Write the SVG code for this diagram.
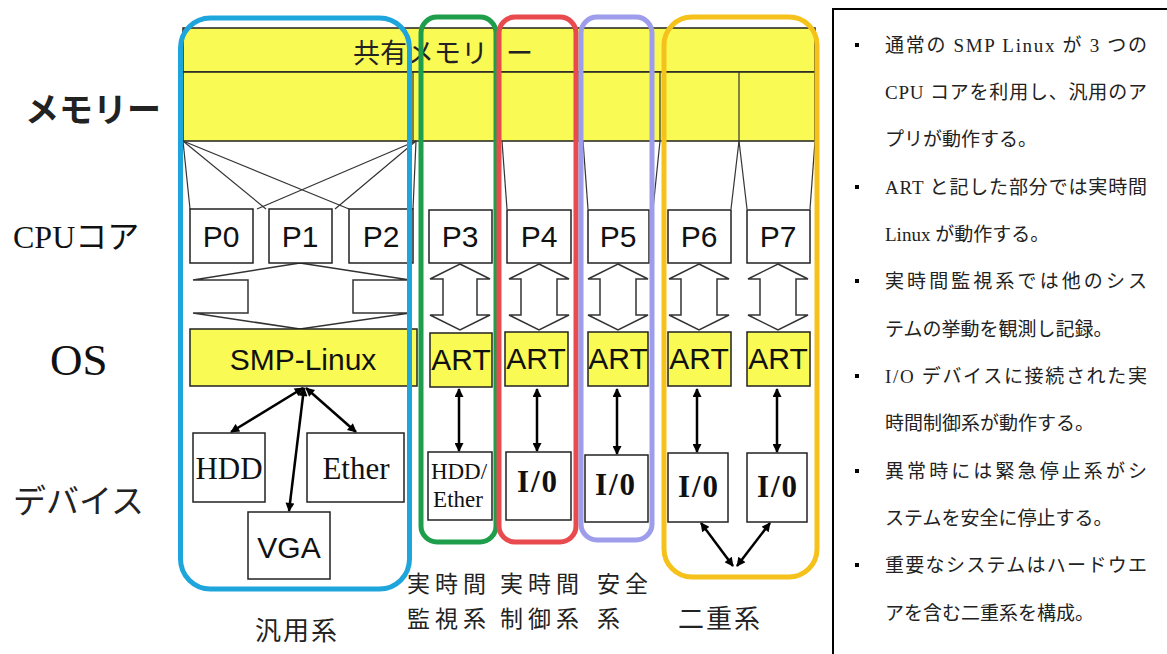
<svg xmlns="http://www.w3.org/2000/svg" width="1167" height="654" viewBox="0 0 1167 654">
<style>
.band{fill:#fafa55;stroke:#222;stroke-width:1.5}
.box{fill:#fff;stroke:#222;stroke-width:1.5}
.ybox{fill:#fafa55;stroke:#222;stroke-width:1.5}
.ln{stroke:#333;stroke-width:1.2;fill:none}
.blk{fill:#fff;stroke:#333;stroke-width:1.5}
.arr{stroke:#000;stroke-width:2.5;fill:none;marker-start:url(#ah);marker-end:url(#ah)}
.sans{font-family:"Liberation Sans",Arial,sans-serif;fill:#111}
.serif{font-family:"Liberation Serif","Noto Sans CJK JP",serif;fill:#111}
.jp{font-family:"Noto Sans CJK JP",sans-serif;fill:#222}
.grp{fill:none;stroke-width:5}
.note{font-family:"Liberation Serif","Noto Sans CJK JP",serif;font-size:19px;fill:#222}
</style>
<defs>
<marker id="ah" viewBox="0 0 10 10" refX="9" refY="5" markerWidth="11" markerHeight="9" markerUnits="userSpaceOnUse" orient="auto-start-reverse"><path d="M0,0 L10,5 L0,10 z" fill="#000"/></marker>
</defs>
<rect width="1167" height="654" fill="#fff"/>

<g id="labels-left">
<text x="25" y="122" class="jp" font-size="34" font-weight="bold">メモリー</text>
<text x="13" y="248" class="serif" font-size="32">CPUコア</text>
<text x="50" y="375" class="serif" font-size="45">OS</text>
<text x="13" y="513" class="jp" font-size="33">デバイス</text>
</g>

<g id="memory">
<rect class="band" x="183" y="28" width="632" height="44"/>
<rect class="band" x="183" y="72" width="632" height="69"/>
<line class="ln" x1="413" y1="72" x2="413" y2="141"/>
<line class="ln" x1="500" y1="72" x2="500" y2="141"/>
<line class="ln" x1="579" y1="72" x2="579" y2="141"/>
<line class="ln" x1="660" y1="72" x2="660" y2="141"/>
<line class="ln" x1="739" y1="72" x2="739" y2="141"/>
<text class="jp" font-size="27" y="63"><tspan x="353">共有メモリ</tspan><tspan x="506">ー</tspan></text>
</g>

<g id="connectors">
<line class="ln" x1="183" y1="141" x2="190" y2="209"/>
<line class="ln" x1="183" y1="141" x2="266" y2="209"/>
<line class="ln" x1="183" y1="141" x2="349" y2="209"/>
<line class="ln" x1="416" y1="141" x2="257" y2="209"/>
<line class="ln" x1="416" y1="141" x2="335" y2="209"/>
<line class="ln" x1="416" y1="141" x2="413" y2="209"/>
<line class="ln" x1="502" y1="141" x2="507" y2="209"/>
<line class="ln" x1="583" y1="141" x2="588" y2="209"/>
<line class="ln" x1="660" y1="141" x2="653" y2="209"/>
<line class="ln" x1="739" y1="141" x2="731" y2="209"/>
<line class="ln" x1="739" y1="141" x2="747" y2="209"/>
<line class="ln" x1="815" y1="141" x2="810" y2="209"/>
<polygon class="blk" points="300,263 410,280 353,280 353,313 410,313 300,329 193,313 248,313 248,280 193,280"/>
<polygon class="blk" points="460,264 490,279 477,279 477,315 490,315 460,330 430,315 443,315 443,279 430,279"/>
<polygon class="blk" points="539,264 569,279 557,279 557,315 569,315 539,330 509,315 521,315 521,279 509,279"/>
<polygon class="blk" points="618,264 648,279 636,279 636,315 648,315 618,330 588,315 600,315 600,279 588,279"/>
<polygon class="blk" points="699,264 729,279 717,279 717,315 729,315 699,330 669,315 681,315 681,279 669,279"/>
<polygon class="blk" points="778,264 808,279 796,279 796,315 808,315 778,330 748,315 760,315 760,279 748,279"/>
<line class="arr" x1="303" y1="388" x2="231" y2="432"/>
<line class="arr" x1="304" y1="388" x2="289" y2="511"/>
<line class="arr" x1="306" y1="388" x2="356" y2="432"/>
<line class="arr" x1="459" y1="389" x2="459" y2="451"/>
<line class="arr" x1="537" y1="389" x2="537" y2="451"/>
<line class="arr" x1="617" y1="389" x2="617" y2="454"/>
<line class="arr" x1="697" y1="389" x2="697" y2="452"/>
<line class="arr" x1="777" y1="389" x2="777" y2="452"/>
<line class="arr" x1="701" y1="523" x2="733" y2="566"/>
<line class="arr" x1="770" y1="523" x2="737" y2="566"/>
</g>

<g id="cpu">
<rect class="box" x="190" y="209" width="63" height="54"/>
<rect class="box" x="269" y="209" width="63" height="54"/>
<rect class="box" x="349" y="209" width="64" height="54"/>
<rect class="box" x="429" y="210" width="63" height="53"/>
<rect class="box" x="507" y="210" width="64" height="53"/>
<rect class="box" x="588" y="210" width="61" height="53"/>
<rect class="box" x="668" y="210" width="63" height="53"/>
<rect class="box" x="747" y="210" width="63" height="53"/>
<g class="sans" font-size="30" text-anchor="middle">
<text x="221" y="247">P0</text>
<text x="300" y="247">P1</text>
<text x="381" y="247">P2</text>
<text x="460" y="247">P3</text>
<text x="539" y="247">P4</text>
<text x="618" y="247">P5</text>
<text x="699" y="247">P6</text>
<text x="778" y="247">P7</text>
</g>
</g>

<g id="os">
<rect class="ybox" x="190" y="329" width="227" height="57"/>
<text x="303" y="370" class="sans" font-size="30" text-anchor="middle">SMP-Linux</text>
<rect class="ybox" x="430" y="333" width="62" height="54"/>
<rect class="ybox" x="505" y="332" width="63" height="54"/>
<rect class="ybox" x="588" y="332" width="60" height="54"/>
<rect class="ybox" x="668" y="332" width="63" height="54"/>
<rect class="ybox" x="747" y="332" width="63" height="54"/>
<g class="sans" font-size="30" text-anchor="middle">
<text x="461" y="370">ART</text>
<text x="536" y="369">ART</text>
<text x="618" y="369">ART</text>
<text x="699" y="369">ART</text>
<text x="778" y="369">ART</text>
</g>
</g>

<g id="devices">
<rect class="box" x="193" y="433" width="72" height="69"/>
<text x="229" y="479" class="serif" font-size="31" text-anchor="middle">HDD</text>
<rect class="box" x="307" y="433" width="97" height="69"/>
<text x="356" y="479" class="serif" font-size="31" text-anchor="middle">Ether</text>
<rect class="box" x="248" y="512" width="82" height="67"/>
<text x="289" y="558" class="sans" font-size="30" text-anchor="middle">VGA</text>
<rect class="box" x="428" y="452" width="64" height="68"/>
<text class="serif" font-size="23" text-anchor="middle"><tspan x="459" y="479">HDD/</tspan><tspan x="458" y="507">Ether</tspan></text>
<rect class="box" x="506" y="452" width="65" height="68"/>
<rect class="box" x="585" y="455" width="63" height="67"/>
<rect class="box" x="668" y="453" width="60" height="69"/>
<rect class="box" x="747" y="453" width="60" height="69"/>
<g class="serif" font-size="31" font-weight="bold" text-anchor="middle" letter-spacing="2">
<text x="538" y="492">I/0</text>
<text x="616" y="495">I/0</text>
<text x="699" y="497">I/0</text>
<text x="778" y="497">I/0</text>
</g>
</g>

<g id="groups">
<rect class="grp" x="180.5" y="18" width="229" height="571" rx="30" stroke="#1ea5dc"/>
<rect class="grp" x="421" y="17" width="75" height="525" rx="16" stroke="#1e9e4a"/>
<rect class="grp" x="499" y="17" width="77" height="525" rx="16" stroke="#e84a4e"/>
<rect class="grp" x="581" y="17" width="71" height="523" rx="16" stroke="#9d9dec"/>
<rect class="grp" x="664" y="17" width="153" height="560" rx="28" stroke="#f5c21b"/>
</g>

<g id="group-labels" class="jp">
<g font-size="23" letter-spacing="5">
<text><tspan x="407" y="592">実時間</tspan><tspan x="407" y="627">監視系</tspan></text>
<text><tspan x="500" y="592">実時間</tspan><tspan x="500" y="627">制御系</tspan></text>
<text><tspan x="597" y="592">安全</tspan><tspan x="597" y="627">系</tspan></text>
</g>
<g font-size="26" letter-spacing="2">
<text x="678" y="628">二重系</text>
<text x="255" y="640">汎用系</text>
</g>
</g>

<g id="notes">
<rect x="833" y="9" width="400" height="700" fill="#fff" stroke="#000" stroke-width="2"/>
<g fill="#000">
<rect x="855" y="43" width="4" height="4"/>
<rect x="855" y="185" width="4" height="4"/>
<rect x="855" y="279" width="4" height="4"/>
<rect x="855" y="374" width="4" height="4"/>
<rect x="855" y="469" width="4" height="4"/>
<rect x="855" y="563" width="4" height="4"/>
</g>
<text class="note" x="885" y="52" textLength="262" lengthAdjust="spacing">通常の SMP Linux が 3 つの</text>
<text class="note" x="885" y="99" textLength="262" lengthAdjust="spacing">CPU コアを利用し、汎用のア</text>
<text class="note" x="885" y="146">プリが動作する。</text>
<text class="note" x="885" y="194" textLength="262" lengthAdjust="spacing">ART と記した部分では実時間</text>
<text class="note" x="885" y="241">Linux が動作する。</text>
<text class="note" x="885" y="288" textLength="262" lengthAdjust="spacing">実時間監視系では他のシス</text>
<text class="note" x="885" y="336">テムの挙動を観測し記録。</text>
<text class="note" x="885" y="383" textLength="262" lengthAdjust="spacing">I/O デバイスに接続された実</text>
<text class="note" x="885" y="430">時間制御系が動作する。</text>
<text class="note" x="885" y="478" textLength="262" lengthAdjust="spacing">異常時には緊急停止系がシ</text>
<text class="note" x="885" y="525">ステムを安全に停止する。</text>
<text class="note" x="885" y="572" textLength="262" lengthAdjust="spacing">重要なシステムはハードウエ</text>
<text class="note" x="885" y="620">アを含む二重系を構成。</text>
</g>
</svg>
